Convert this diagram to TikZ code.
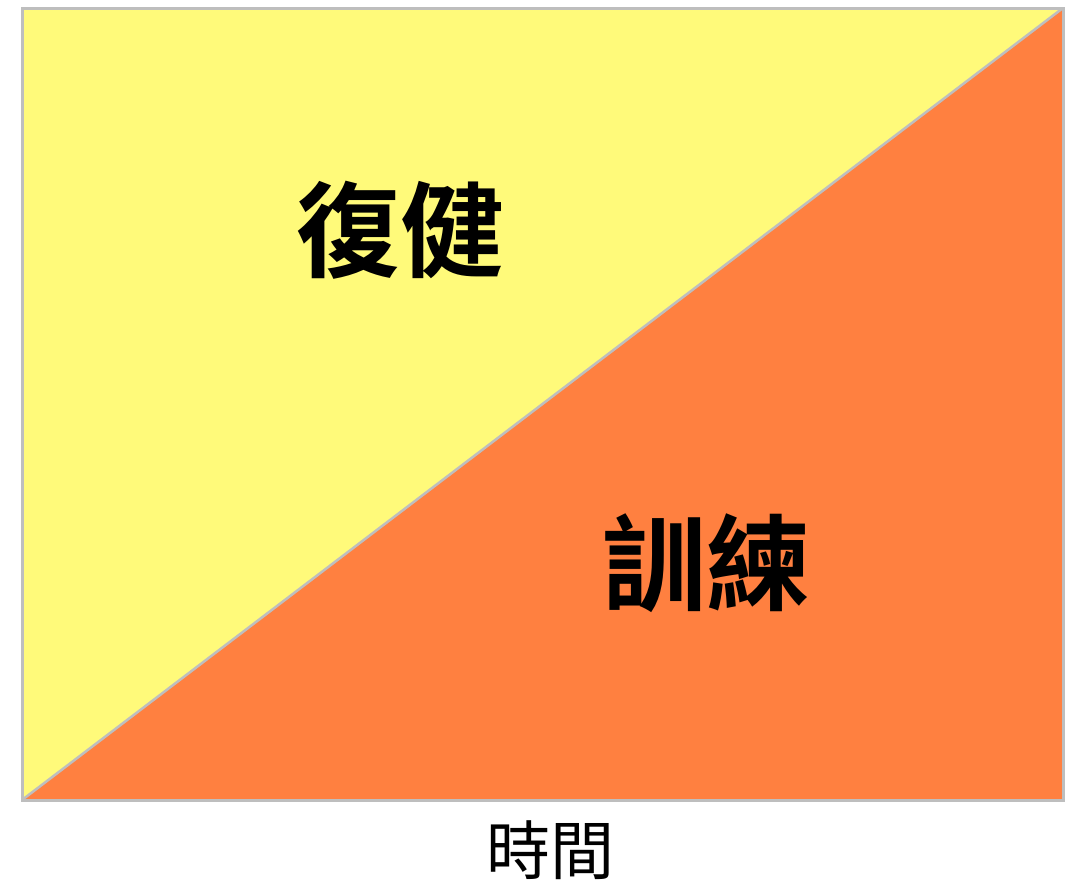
\documentclass[tikz,border=0pt]{standalone}
\usepackage{fontspec}
\newfontfamily\cjkb{Noto Sans CJK TC Bold}
\newfontfamily\cjk{Noto Sans CJK TC}
\definecolor{yel}{RGB}{255,250,122}
\definecolor{org}{RGB}{255,128,64}
\definecolor{frame}{RGB}{190,190,190}
\begin{document}
\begin{tikzpicture}[x=1pt,y=-1pt,
  lbl/.style={inner sep=0pt, font=\cjkb\fontsize{104}{106}\selectfont},
  axis/.style={inner sep=0pt, font=\cjk\fontsize{64}{66}\selectfont}]
\useasboundingbox (0,0) rectangle (1071,886);
\fill[white] (0,0) rectangle (1071,886);
\coordinate (tl) at (22,8);
\coordinate (tr) at (1063,8);
\coordinate (bl) at (22,800);
\coordinate (br) at (1063,800);
\fill[yel] (bl) -- (tl) -- (tr) -- cycle;
\fill[org] (bl) -- (tr) -- (br) -- cycle;
\draw[frame, line width=2.5pt] (bl) -- (tr);
\draw[frame, line width=3pt] (tl) rectangle (br);
\node[lbl] (rehab) at (400,230) {復健};
\node[lbl] (train) at (706,563) {訓練};
\node[axis] (time) at (550,850) {時間};
\end{tikzpicture}
\end{document}
